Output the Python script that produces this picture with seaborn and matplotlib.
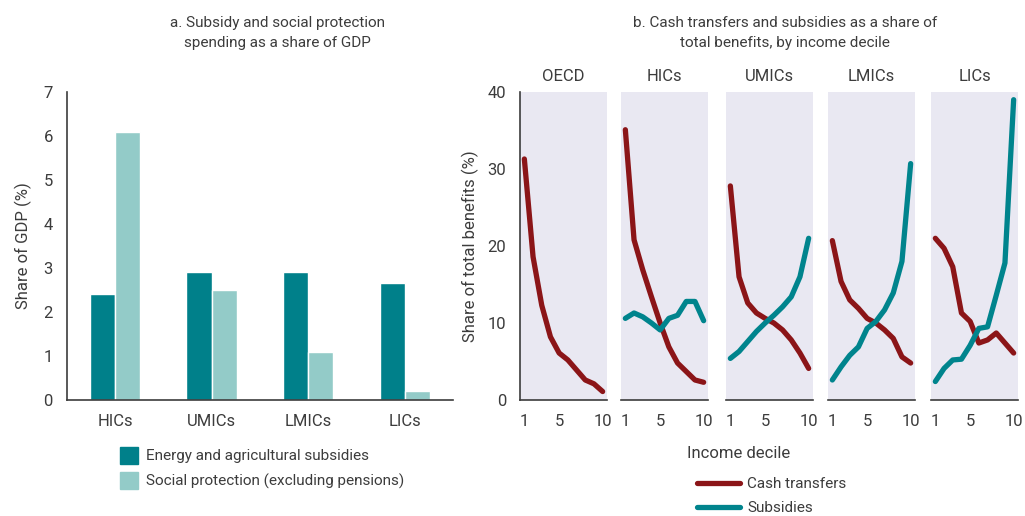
import numpy as np
import pandas as pd
import seaborn as sns
import matplotlib
matplotlib.use("Agg")
from matplotlib import pyplot as plt
from matplotlib.lines import Line2D
from matplotlib.patches import Patch

# data: panel a
groups = ["HICs", "UMICs", "LMICs", "LICs"]
energy_subsidies = [2.4, 2.9, 2.9, 2.65]
social_protection = [6.1, 2.5, 1.1, 0.2]

# data: panel b
panels = ["OECD", "HICs", "UMICs", "LMICs", "LICs"]
deciles = list(range(1, 11))
cash = {
    "OECD":  [31.3, 18.6, 12.3, 8.2, 6.1, 5.2, 3.9, 2.6, 2.1, 1.1],
    "HICs":  [35.1, 20.8, 16.9, 13.4, 10.0, 6.9, 4.8, 3.7, 2.6, 2.3],
    "UMICs": [27.8, 16.0, 12.6, 11.3, 10.6, 10.0, 9.1, 7.8, 6.1, 4.1],
    "LMICs": [20.7, 15.4, 13.0, 11.9, 10.6, 10.0, 9.1, 8.0, 5.6, 4.8],
    "LICs":  [21.0, 19.7, 17.3, 11.3, 10.2, 7.4, 7.8, 8.7, 7.4, 6.1],
}
subsidies = {
    "OECD":  None,
    "HICs":  [10.6, 11.3, 10.8, 10.0, 9.1, 10.6, 11.0, 12.8, 12.8, 10.3],
    "UMICs": [5.4, 6.3, 7.6, 8.9, 10.0, 11.0, 12.1, 13.4, 16.0, 21.0],
    "LMICs": [2.6, 4.3, 5.8, 6.9, 9.3, 10.2, 11.7, 13.9, 18.0, 30.7],
    "LICs":  [2.4, 4.1, 5.2, 5.3, 7.1, 9.3, 9.5, 13.6, 17.8, 39.0],
}

# colours
c_dark = "#00808a"
c_light = "#93cbc8"
c_red = "#8b1518"
c_teal = "#00848d"
c_bg = "#e9e8f2"
c_txt = "#3c3c3c"
c_spine = "#3c3c3c"

sns.set_style("white")
plt.rcParams['font.family'] = ['Roboto', 'DejaVu Sans']
plt.rcParams['text.color'] = c_txt
plt.rcParams['axes.labelcolor'] = c_txt
plt.rcParams['xtick.color'] = c_spine
plt.rcParams['ytick.color'] = c_spine
plt.rcParams['xtick.labelcolor'] = c_txt
plt.rcParams['ytick.labelcolor'] = c_txt

W, H = 1025, 516
fig = plt.figure(figsize=(W / 100, H / 100), dpi=100)


def box(x0, y0, x1, y1):
    return [x0 / W, 1 - y1 / H, (x1 - x0) / W, (y1 - y0) / H]


# ---- panel a
bars = pd.DataFrame({
    "group": groups * 2,
    "value": energy_subsidies + social_protection,
    "series": ["Energy and agricultural subsidies"] * 4 + ["Social protection (excluding pensions)"] * 4,
})
ax = fig.add_axes(box(66.7, 92, 453, 400))
sns.barplot(data=bars, x="group", y="value", hue="series", palette=[c_dark, c_light],
            width=0.52, saturation=1, legend=False, ax=ax)
ax.set_xlim(-0.5, 3.5)
ax.set_ylim(0, 7)
ax.set_yticks(range(0, 8))
ax.set_xticks(np.arange(-0.5, 4, 1))
ax.set_xticklabels([])
ax.set_xticks(range(4), minor=True)
ax.set_xticklabels(groups, minor=True, fontsize=12)
ax.tick_params(axis="x", which="major", length=7, width=1.2, direction="out")
ax.tick_params(axis="x", which="minor", length=0, pad=10)
ax.tick_params(axis="y", length=7, width=1.2, labelsize=12, pad=3)
ax.set_xlabel("")
ax.set_ylabel("Share of GDP (%)", fontsize=12, labelpad=8)
for s in ["top", "right"]:
    ax.spines[s].set_visible(False)
for s in ["left", "bottom"]:
    ax.spines[s].set_color(c_spine)
    ax.spines[s].set_linewidth(1.2)
fig.text(277 / W, 1 - 33 / H, "a. Subsidy and social protection\nspending as a share of GDP",
         ha="center", va="center", fontsize=11, linespacing=1.55)
fig.legend(handles=[Patch(color=c_dark, label="Energy and agricultural subsidies"),
                    Patch(color=c_light, label="Social protection (excluding pensions)")],
           loc="upper left", bbox_to_anchor=(120 / W, 1 - 447 / H), frameon=False, fontsize=11,
           borderpad=0, borderaxespad=0,
           handlelength=1.15, handleheight=1.3, handletextpad=0.55, labelspacing=0.55)

# ---- panel b
lefts = [520, 621, 726, 828, 931]
for i, p in enumerate(panels):
    axp = fig.add_axes(box(lefts[i], 92, lefts[i] + 87, 400))
    axp.set_facecolor(c_bg)
    sns.lineplot(x=deciles, y=cash[p], color=c_red, linewidth=3.8, ax=axp)
    if subsidies[p] is not None:
        sns.lineplot(x=deciles, y=subsidies[p], color=c_teal, linewidth=3.8, ax=axp)
    axp.set_xlim(0.5, 10.5)
    axp.set_ylim(0, 40)
    axp.set_xticks(np.arange(0.5, 11, 1))
    axp.set_xticklabels([])
    axp.set_xticks([1, 5, 10], minor=True)
    axp.set_xticklabels(["1", "5", "10"], minor=True, fontsize=12)
    axp.tick_params(axis="x", which="major", length=6, width=1, direction="out")
    axp.tick_params(axis="x", which="minor", length=0, pad=10)
    for s in ["top", "right"]:
        axp.spines[s].set_visible(False)
    axp.spines["bottom"].set_color(c_spine)
    axp.spines["bottom"].set_linewidth(1.2)
    if i == 0:
        axp.set_yticks([0, 10, 20, 30, 40])
        axp.tick_params(axis="y", length=7, width=1.2, labelsize=12, pad=3)
        axp.spines["left"].set_color(c_spine)
        axp.spines["left"].set_linewidth(1.2)
        axp.set_ylabel("Share of total benefits (%)", fontsize=12, labelpad=6)
    else:
        axp.set_yticks([])
        axp.spines["left"].set_visible(False)
    axp.set_title(p, fontsize=12, pad=8, color=c_txt)

fig.text(785 / W, 1 - 33 / H, "b. Cash transfers and subsidies as a share of\ntotal benefits, by income decile",
         ha="center", va="center", fontsize=11, linespacing=1.55)
fig.text(739 / W, 1 - 453 / H, "Income decile", ha="center", va="center", fontsize=12)
fig.legend(handles=[Line2D([], [], color=c_red, lw=3.8, label="Cash transfers"),
                    Line2D([], [], color=c_teal, lw=3.8, label="Subsidies")],
           loc="upper left", bbox_to_anchor=(697 / W, 1 - 477 / H), frameon=False, fontsize=11,
           borderpad=0, borderaxespad=0,
           handlelength=2.8, handletextpad=0.5, labelspacing=0.65)

fig.savefig("out.png", dpi=100)
